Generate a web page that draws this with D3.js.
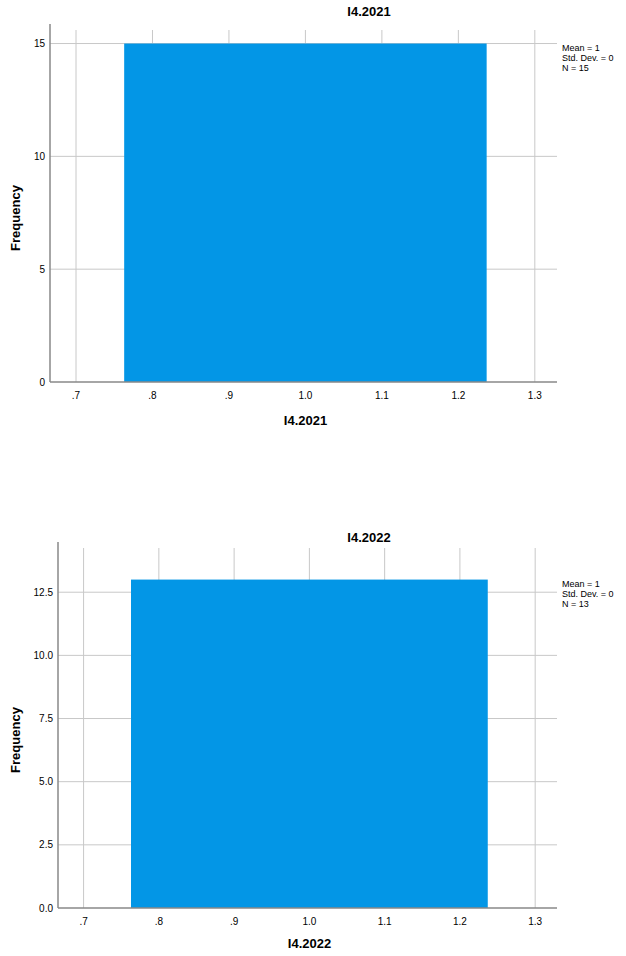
<!DOCTYPE html>
<html><head><meta charset="utf-8">
<script src="https://cdn.jsdelivr.net/npm/d3@7"></script>
<style>body{margin:0;background:#fff}text{font-family:Arial,"Liberation Sans",sans-serif}</style>
</head><body><svg id="c" width="626" height="956"></svg>
<script>
var titles = ["I4.2021", "I4.2022"];
var binStart = [0.763, 0.763];
var binEnd = [1.237, 1.237];
var counts = [15, 13];
var yMax = [15.6, 14.25];
var yTicks = [[0, 5, 10, 15], [0, 2.5, 5, 7.5, 10, 12.5]];
var xTicks = [0.7, 0.8, 0.9, 1.0, 1.1, 1.2, 1.3];
var stats = [["Mean = 1", "Std. Dev. = 0", "N = 15"], ["Mean = 1", "Std. Dev. = 0", "N = 13"]];

var svg = d3.select("#c");
var panels = [
  {left: 50, top: 30, bottom: 382, titleY: 16, labelY: 425, fmt: d3.format("d")},
  {left: 58, top: 548, bottom: 908, titleY: 542, labelY: 948, fmt: d3.format(".1f")}
];
var right = 557;

function xfmt(d) { var s = d3.format(".1f")(d); return s.charAt(0) == "0" ? s.slice(1) : s; }

panels.forEach(function(p, i) {
  var x = d3.scaleLinear().domain([0.666, 1.329]).range([p.left, right]);
  var y = d3.scaleLinear().domain([0, yMax[i]]).range([p.bottom, p.top]);
  var g = svg.append("g");

  // grid
  g.selectAll(".vx").data(xTicks).enter().append("line")
    .attr("x1", d => x(d)).attr("x2", d => x(d)).attr("y1", p.top).attr("y2", p.bottom)
    .attr("stroke", "#c8c8c8");
  g.selectAll(".hy").data(yTicks[i].slice(1)).enter().append("line")
    .attr("x1", p.left).attr("x2", right).attr("y1", d => y(d)).attr("y2", d => y(d))
    .attr("stroke", "#c8c8c8");

  // bar
  g.append("rect").attr("x", x(binStart[i])).attr("width", x(binEnd[i]) - x(binStart[i]))
    .attr("y", y(counts[i])).attr("height", y(0) - y(counts[i]))
    .attr("fill", "#0396e6");

  // axes
  g.append("line").attr("x1", p.left).attr("x2", p.left).attr("y1", p.top - 6).attr("y2", p.bottom)
    .attr("stroke", "#888").attr("stroke-width", 1.5);
  g.append("line").attr("x1", p.left).attr("x2", right).attr("y1", p.bottom).attr("y2", p.bottom)
    .attr("stroke", "#888").attr("stroke-width", 1.5);

  g.selectAll(".yl").data(yTicks[i]).enter().append("text")
    .attr("x", p.left - 5).attr("y", d => y(d) + 3.5).attr("text-anchor", "end")
    .attr("font-size", 10).text(p.fmt);
  g.selectAll(".xl").data(xTicks).enter().append("text")
    .attr("x", d => x(d)).attr("y", p.bottom + 17).attr("text-anchor", "middle")
    .attr("font-size", 10).text(xfmt);

  g.append("text").attr("x", 369).attr("y", p.titleY).attr("text-anchor", "middle")
    .attr("font-size", 13).attr("font-weight", "bold").text(titles[i]);
  g.append("text").attr("x", (p.left + right) / 2 + 2).attr("y", p.labelY).attr("text-anchor", "middle")
    .attr("font-size", 13).attr("font-weight", "bold").text(titles[i]);
  g.append("text").attr("transform", "translate(20," + ((p.top + p.bottom) / 2 + 12) + ") rotate(-90)")
    .attr("text-anchor", "middle").attr("font-size", 13).attr("font-weight", "bold").text("Frequency");

  g.selectAll(".st").data(stats[i]).enter().append("text")
    .attr("x", 562).attr("y", (d, k) => y(counts[i]) + 7 + k * 10)
    .attr("font-size", 9).text(d => d);
});
</script></body></html>
